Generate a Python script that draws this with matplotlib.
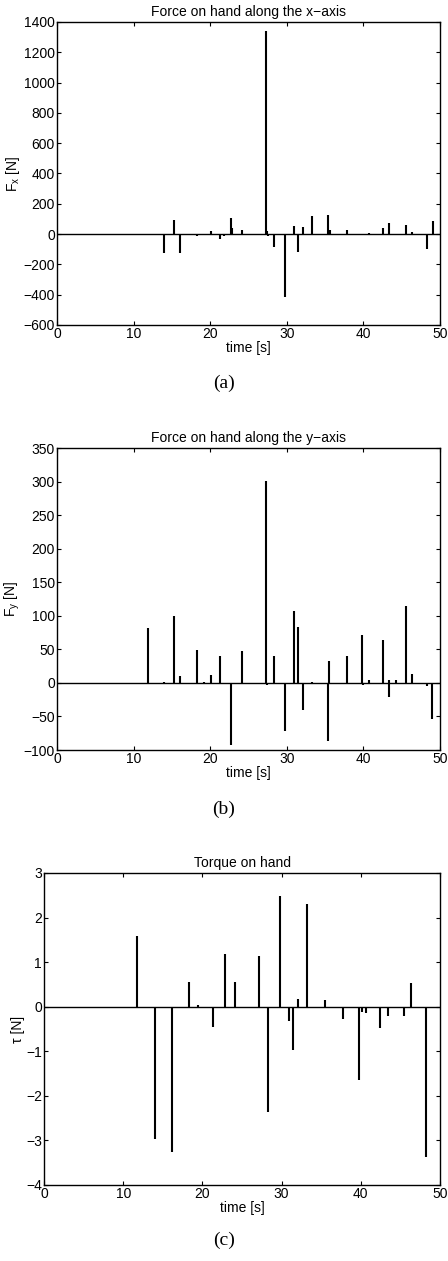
import numpy as np
import matplotlib
matplotlib.use("Agg")
import matplotlib.pyplot as plt

# spike data (time [s], value)
fx_times = [14.0, 15.3, 16.1, 18.3, 20.1, 21.3, 21.8, 22.7, 22.9, 24.2, 27.3, 27.45, 27.5,
            28.3, 29.8, 30.9, 31.5, 32.1, 33.3, 35.4, 35.6, 37.8, 39.9, 40.7, 42.5, 43.4,
            45.6, 46.3, 48.3, 49.1]
fx_values = [-123, 95, -126, -15, 18, -33, -10, 104, 37, 29, 1340, 20, -15,
             -86, -417, 55, -117, 46, 117, 126, 24, 26, -8, 8, 37, 73,
             62, 13, -100, 86]

fy_times = [11.9, 14.0, 15.3, 16.1, 18.3, 19.2, 20.1, 21.3, 22.7, 24.2, 27.3, 27.45,
            28.3, 29.8, 30.9, 31.5, 32.1, 33.3, 35.4, 35.5, 37.8, 39.8, 39.95, 40.7,
            42.5, 43.3, 43.4, 44.3, 45.6, 46.3, 48.3, 49.0]
fy_values = [82, 2, 100, 11, 49, 2, 12, 40, -92, 47, 301, -3,
             40, -72, 107, 83, -40, 2, -87, 33, 40, 72, -3, 5,
             64, 4, -21, 4, 115, 14, -5, -54]

tau_times = [11.8, 14.0, 16.1, 18.3, 19.4, 21.3, 22.8, 24.1, 27.2, 28.3, 29.8, 30.9,
             31.5, 32.1, 33.2, 35.5, 37.7, 39.8, 40.1, 40.7, 42.4, 43.4, 45.5, 46.3, 48.2]
tau_values = [1.58, -2.97, -3.27, 0.55, 0.04, -0.45, 1.19, 0.55, 1.14, -2.37, 2.48, -0.32,
              -0.97, 0.17, 2.30, 0.15, -0.27, -1.65, -0.13, -0.15, -0.48, -0.22, -0.22, 0.53, -3.38]

plt.rcParams['font.family'] = ['Liberation Sans', 'DejaVu Sans']
plt.rcParams['font.size'] = 10
plt.rcParams['axes.linewidth'] = 1.0

fig = plt.figure(figsize=(4.48, 12.61), dpi=100)

panels = [
    dict(rect=[0.1272, 0.7423, 0.855, 0.2403], t=fx_times, v=fx_values,
         title='Force on hand along the x\u2212axis', ylabel=r'F$_\mathregular{x}$ [N]',
         ylim=(-600, 1400), yticks=np.arange(-600, 1401, 200), cap='(a)', capy=0.6963),
    dict(rect=[0.1272, 0.4052, 0.855, 0.2395], t=fy_times, v=fy_values,
         title='Force on hand along the y\u2212axis', ylabel=r'F$_\mathregular{y}$ [N]',
         ylim=(-100, 350), yticks=np.arange(-100, 351, 50), cap='(b)', capy=0.3585),
    dict(rect=[0.0982, 0.0603, 0.884, 0.2474], t=tau_times, v=tau_values,
         title='Torque on hand', ylabel='\u03c4 [N]',
         ylim=(-4, 3), yticks=np.arange(-4, 4, 1), cap='(c)', capy=0.0167),
]

for p in panels:
    ax = fig.add_axes(p['rect'])
    ax.axhline(0, color='black', lw=1.0)
    ax.vlines(p['t'], 0, p['v'], color='black', lw=1.5)
    ax.set_xlim(0, 50)
    ax.set_ylim(*p['ylim'])
    ax.set_xticks(np.arange(0, 51, 10))
    ax.set_yticks(p['yticks'])
    ax.tick_params(direction='in', top=True, right=True, length=3, pad=1.5)
    ax.set_title(p['title'], fontsize=10, pad=4)
    ax.set_xlabel('time [s]', labelpad=0)
    ax.set_ylabel(p['ylabel'], labelpad=1)
    fig.text(0.5, p['capy'], p['cap'], ha='center', va='center',
             family='Liberation Serif', fontsize=14)

fig.savefig('out.png', dpi=100)
